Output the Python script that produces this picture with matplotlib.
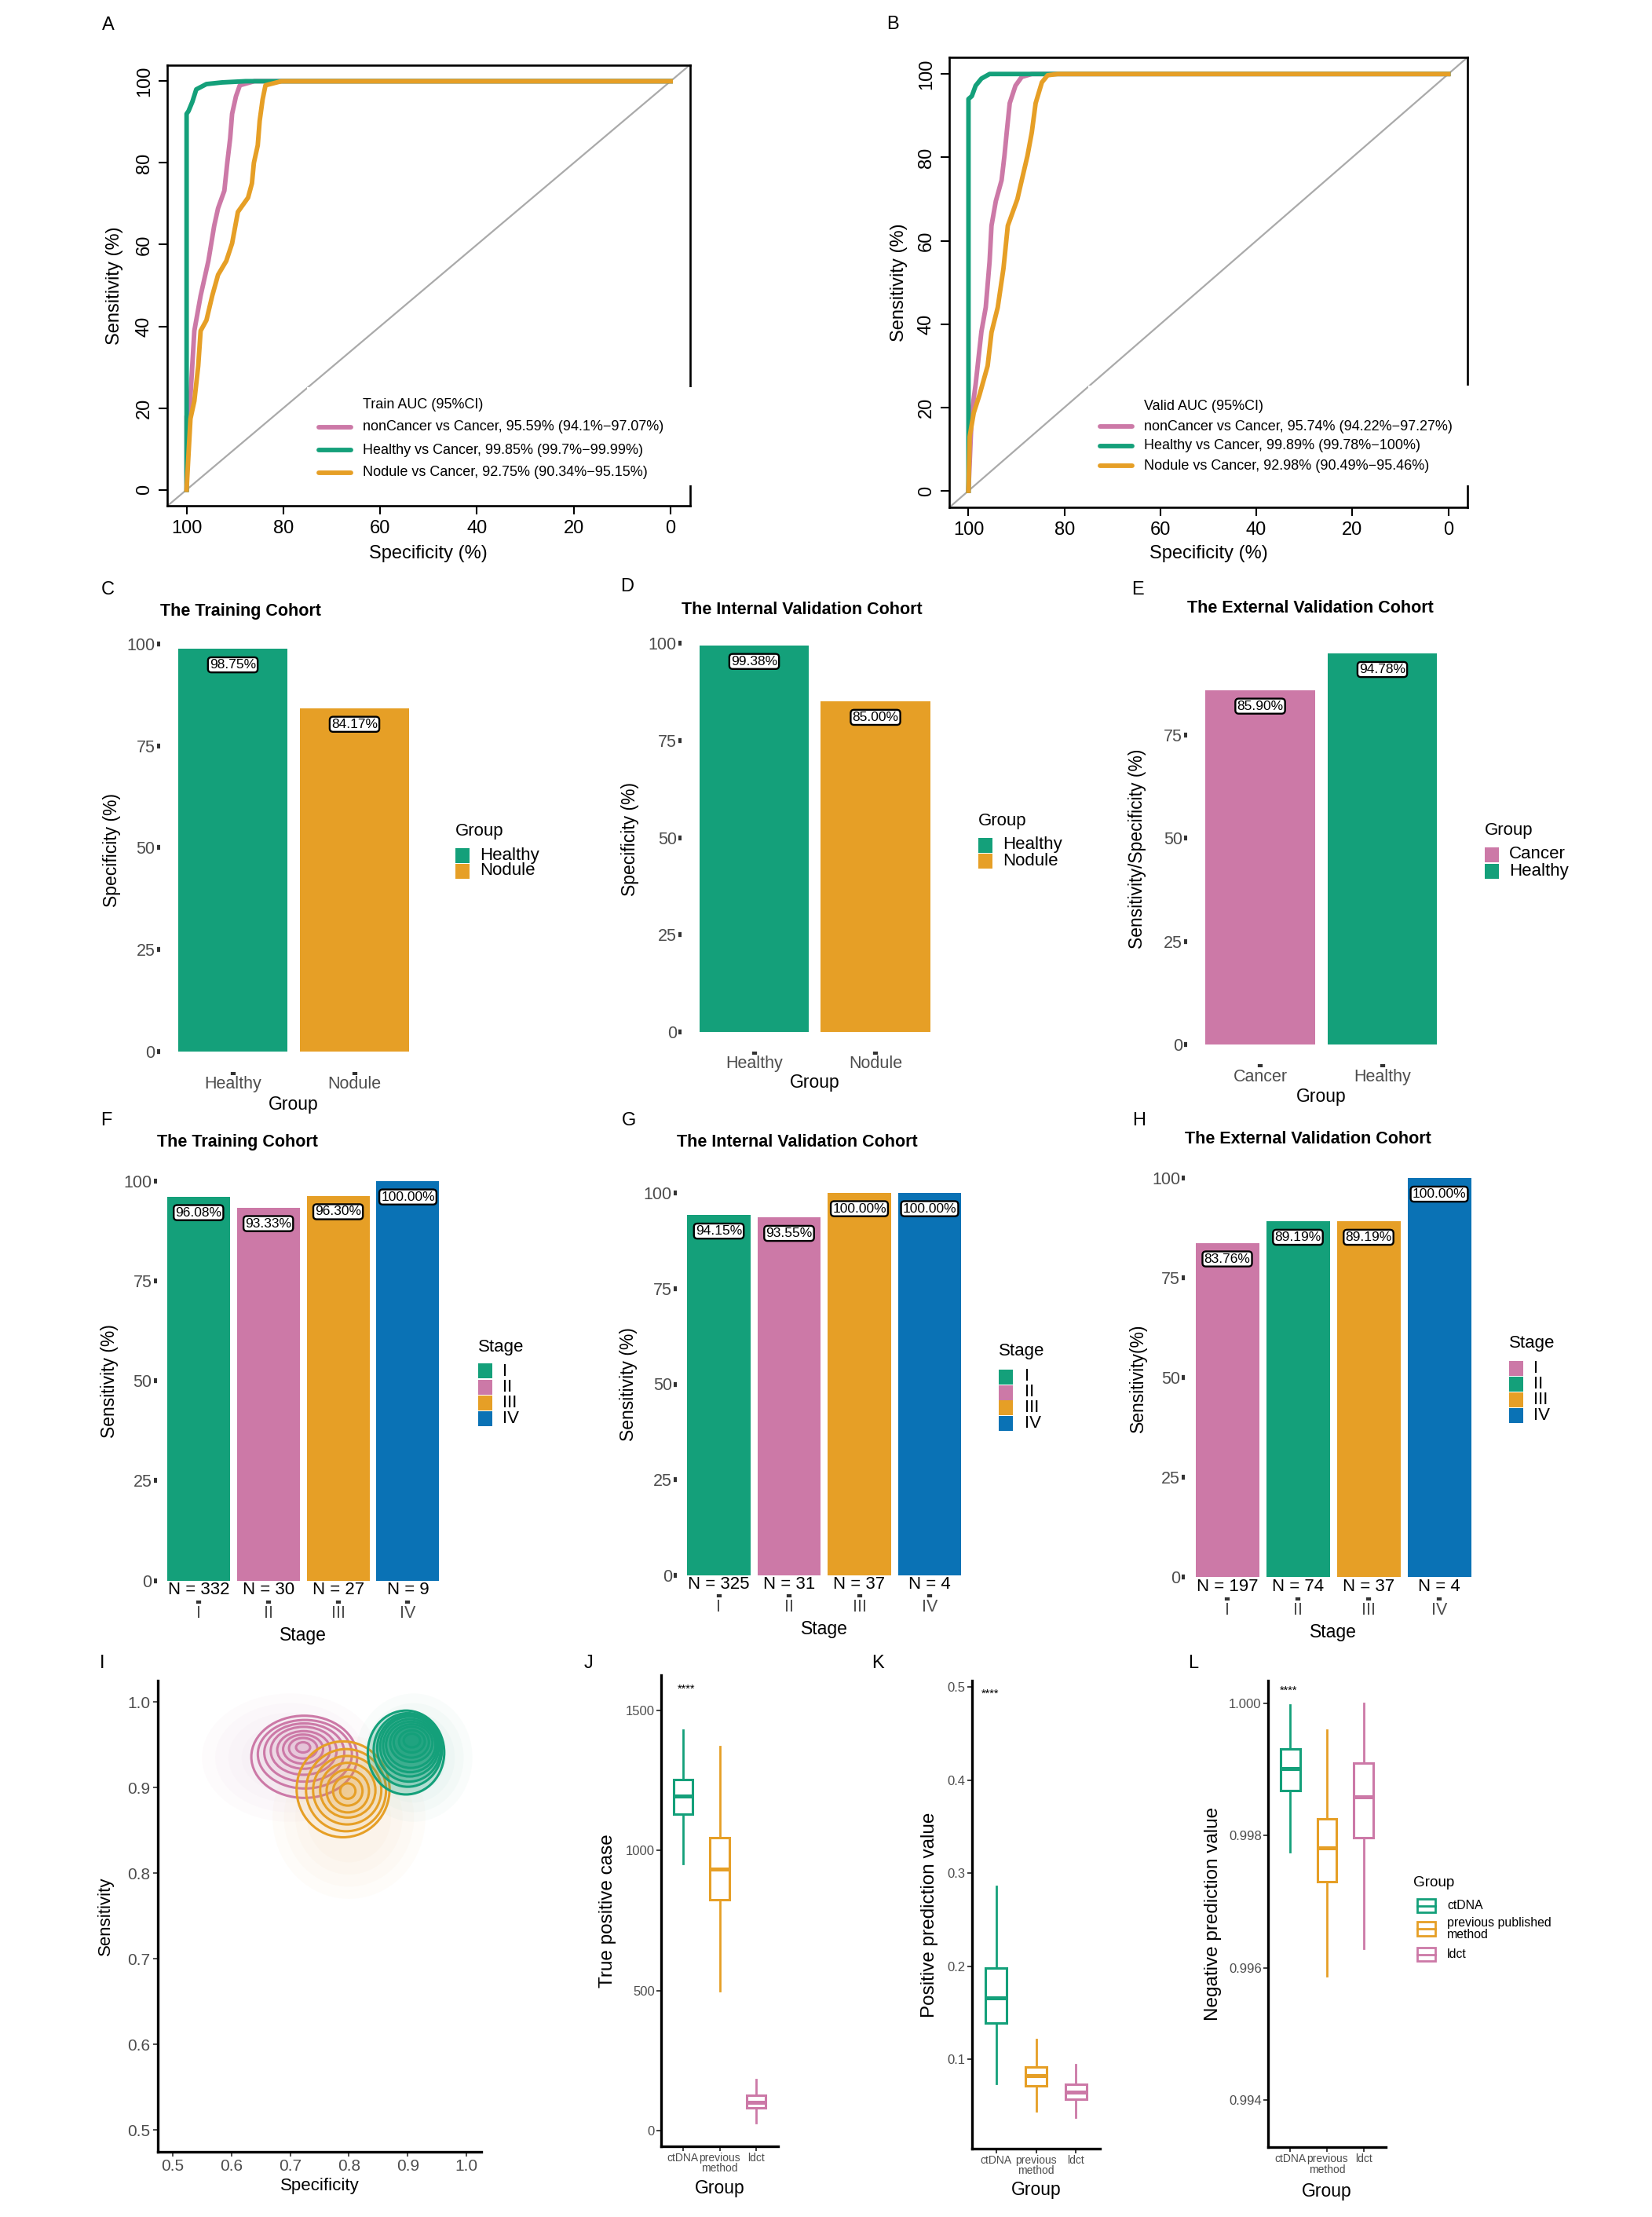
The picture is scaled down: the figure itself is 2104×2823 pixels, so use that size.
import matplotlib
matplotlib.use('Agg')
import matplotlib.pyplot as plt
from matplotlib import font_manager as fm
from matplotlib.patches import Rectangle, Ellipse
from matplotlib.lines import Line2D

# ---------------- data ----------------
# ROC curves (specificity %, sensitivity %) read off panels A and B
A_noncancer_spec = [100, 100, 99.3, 98.4, 97.1, 95.5, 94.3, 93.5, 92.2, 91.6, 91.0, 90.6, 89.8, 89.0, 86.0, 0]
A_noncancer_sens = [0, 18, 20.9, 38.9, 47.5, 56, 64.6, 68.9, 73.2, 80, 86, 92, 96.3, 99, 100, 100]
A_healthy_spec = [100, 100, 100, 99.6, 98.8, 98.0, 95.9, 92.7, 87.8, 0]
A_healthy_sens = [0, 8.8, 92, 92.7, 95, 98, 99.3, 99.7, 100, 100]
A_nodule_spec = [100, 99.6, 99.2, 98.4, 97.6, 97.1, 95.9, 94.7, 93.5, 91.8, 90.6, 89.4, 87.3, 86.5,
                 86.1, 85.3, 84.9, 84.3, 83.7, 80.4, 0]
A_nodule_sens = [0, 8.8, 17.4, 21.7, 30.3, 38.9, 41.5, 47.5, 52.6, 56, 60.3, 68, 71.5, 75,
                 80, 84.3, 90.3, 95.5, 99, 100, 100]

B_noncancer_spec = [100, 99.3, 98.5, 97.3, 96.4, 95.6, 95.2, 94.3, 93.1, 92.5, 92.0, 91.4, 90.2, 88.9, 86.8, 0]
B_noncancer_sens = [0, 18.7, 25.6, 38.2, 44, 55, 63.6, 69.5, 74.5, 80.4, 86.3, 93, 97.2, 99.3, 100, 100]
B_healthy_spec = [100, 100, 99.3, 98.5, 97.3, 95.6, 0]
B_healthy_sens = [0, 94, 94.7, 97.2, 98.9, 100, 100]
B_nodule_spec = [100, 99.75, 98.9, 97.7, 96.0, 95.2, 93.9, 92.7, 91.8, 89.8, 88.9, 87.7, 86.8, 86.0,
                 84.7, 83.5, 81.4, 0]
B_nodule_sens = [0, 13, 18.7, 23, 30, 38, 44, 53.4, 63.6, 70, 74.5, 80.4, 86, 93, 98, 99.7, 100, 100]

A_legend = ["nonCancer vs Cancer, 95.59% (94.1%\u221297.07%)",
            "Healthy vs Cancer, 99.85% (99.7%\u221299.99%)",
            "Nodule vs Cancer, 92.75% (90.34%\u221295.15%)"]
B_legend = ["nonCancer vs Cancer, 95.74% (94.22%\u221297.27%)",
            "Healthy vs Cancer, 99.89% (99.78%\u2212100%)",
            "Nodule vs Cancer, 92.98% (90.49%\u221295.46%)"]

# specificity bars
C_groups = ["Healthy", "Nodule"]
C_values = [98.75, 84.17]
D_groups = ["Healthy", "Nodule"]
D_values = [99.38, 85.00]
E_groups = ["Cancer", "Healthy"]
E_values = [85.90, 94.78]

# sensitivity by stage
stages = ["I", "II", "III", "IV"]
F_values = [96.08, 93.33, 96.30, 100.00]
F_n = [332, 30, 27, 9]
G_values = [94.15, 93.55, 100.00, 100.00]
G_n = [325, 31, 37, 4]
H_values = [83.76, 89.19, 89.19, 100.00]
H_n = [197, 74, 37, 4]

# panel I: density contour rings (centre x, centre y, half width, half height)
I_pink_rings = [(0.724, 0.936, 0.090, 0.048), (0.725, 0.939, 0.080, 0.040), (0.724, 0.941, 0.068, 0.034),
                (0.723, 0.943, 0.056, 0.028), (0.723, 0.944, 0.045, 0.022), (0.722, 0.945, 0.034, 0.017),
                (0.722, 0.946, 0.024, 0.012), (0.722, 0.947, 0.012, 0.006)]
I_orange_rings = [(0.790, 0.898, 0.079, 0.056), (0.795, 0.897, 0.068, 0.048), (0.797, 0.897, 0.058, 0.040),
                  (0.798, 0.897, 0.047, 0.032), (0.798, 0.896, 0.036, 0.025), (0.798, 0.896, 0.025, 0.017),
                  (0.798, 0.896, 0.013, 0.009)]
I_green_rings = [(0.897, 0.941, 0.065, 0.049), (0.900, 0.944, 0.058, 0.043), (0.902, 0.946, 0.054, 0.039),
                 (0.903, 0.948, 0.050, 0.035), (0.904, 0.949, 0.046, 0.031), (0.905, 0.950, 0.042, 0.027),
                 (0.906, 0.952, 0.036, 0.022), (0.906, 0.953, 0.030, 0.018), (0.907, 0.954, 0.022, 0.013),
                 (0.907, 0.955, 0.014, 0.008)]
I_haze = [(0.70, 0.935, 0.15, 0.075), (0.80, 0.865, 0.13, 0.095), (0.91, 0.935, 0.10, 0.075)]

# panels J-L: boxplot summaries (whislo, q1, med, q3, whishi) for ctDNA, previous method, ldct
box_groups = ["ctDNA", "previous\nmethod", "ldct"]
J_stats = [(952, 1129, 1194, 1253, 1430), (500, 823, 933, 1046, 1371), (28, 81, 102, 126, 183)]
K_stats = [(0.074, 0.139, 0.166, 0.198, 0.286), (0.0445, 0.071, 0.082, 0.0916, 0.121),
           (0.0373, 0.0566, 0.0643, 0.0733, 0.0944)]
L_stats = [(0.99775, 0.99868, 0.99902, 0.99931, 0.99998), (0.99588, 0.9973, 0.99782, 0.99826, 0.9996),
           (0.9963, 0.99797, 0.99859, 0.9991, 1.0000)]

# ---------------- style ----------------
GREEN = '#14A07A'
PINK = '#CC79A7'
ORANGE = '#E69F26'
BLUE = '#0A72B5'
GRAY_TXT = '#4D4D4D'

names = {f.name for f in fm.fontManager.ttflist}
SANS = 'Liberation Sans'
HAS_NARROW = 'Liberation Sans Narrow' in names
NARROW = 'Liberation Sans Narrow' if HAS_NARROW else SANS
NS = 1.0 if HAS_NARROW else 0.78   # shrink text sizes when no narrow face is present
plt.rcParams['font.family'] = [SANS, 'DejaVu Sans']

W, H = 2104, 2823
fig = plt.figure(figsize=(W / 100, H / 100), dpi=100)


def px_axes(box):
    l, t, r, b = box
    return fig.add_axes([l / W, 1 - b / H, (r - l) / W, (b - t) / H])


def ftext(x, y, s, **kw):
    fig.text(x / W, 1 - y / H, s, **kw)


def frect(x0, y0, x1, y1, **kw):
    fig.patches.append(Rectangle((x0 / W, 1 - y1 / H), (x1 - x0) / W, (y1 - y0) / H,
                                 transform=fig.transFigure, figure=fig, **kw))


def fline(x0, x1, y, **kw):
    fig.lines.append(Line2D([x0 / W, x1 / W], [1 - y / H, 1 - y / H],
                            transform=fig.transFigure, figure=fig, **kw))


def place_labels(ax, box, xlab, ylab, xlab_y, ylab_x, fs, family=SANS, xfs=None):
    l, t, r, b = box
    ax.set_xlabel(xlab, fontsize=xfs or fs, va='center', family=family)
    ax.xaxis.set_label_coords(0.5, (b - xlab_y) / (b - t))
    ax.set_ylabel(ylab, fontsize=fs, va='center', family=SANS)
    ax.yaxis.set_label_coords((ylab_x - l) / (r - l), 0.5)


# ---------------- ROC panels ----------------
def roc_panel(box, curves, legend_title, legend_labels, leg, ylab_x, xlab_y):
    ax = px_axes(box)
    ax.set_xlim(104, -4)
    ax.set_ylim(-4, 104)
    ax.axline((100, 0), (0, 100), color='#AAAAAA', lw=1.6, zorder=1)
    for sp, se, col in curves:
        ax.plot(sp, se, color=col, lw=4.2, solid_joinstyle='round', zorder=3)
    for s in ax.spines.values():
        s.set_linewidth(1.9)
    ax.set_xticks([100, 80, 60, 40, 20, 0])
    ax.set_yticks([0, 20, 40, 60, 80, 100])
    ax.tick_params(length=8, width=1.5, labelsize=17, pad=5)
    ax.tick_params(axis='y', labelrotation=90)
    for t in ax.get_yticklabels():
        t.set_va('center')
    place_labels(ax, box, 'Specificity (%)', 'Sensitivity (%)', xlab_y, ylab_x, 17)
    # legend drawn on a white patch that hides the frame behind it
    rx0, ry0, rx1, ry1, hx0, hx1, tx, ty, rows = leg
    frect(rx0, ry0, rx1, ry1, facecolor='white', edgecolor='none', zorder=5)
    lfs = 15 if HAS_NARROW else 13
    ftext(tx, ty, legend_title, fontsize=lfs, va='center', family=NARROW, zorder=6)
    for (sp, se, col), lab, y in zip(curves, legend_labels, rows):
        fline(hx0, hx1, y, color=col, lw=4.2, solid_capstyle='round', zorder=6)
        ftext(tx, y, lab, fontsize=lfs, va='center', family=NARROW, zorder=6)
    return ax


A_box = (213, 82.6, 878.7, 644.4)
roc_panel(A_box,
          [(A_noncancer_spec, A_noncancer_sens, PINK), (A_healthy_spec, A_healthy_sens, GREEN),
           (A_nodule_spec, A_nodule_sens, ORANGE)],
          'Train AUC (95%CI)', A_legend,
          (391, 493, 905, 618, 406, 447, 462, 515, [544, 573, 602]), 146, 705)
B_box = (1209, 73, 1869, 646.2)
roc_panel(B_box,
          [(B_noncancer_spec, B_noncancer_sens, PINK), (B_healthy_spec, B_healthy_sens, GREEN),
           (B_nodule_spec, B_nodule_sens, ORANGE)],
          'Valid AUC (95%CI)', B_legend,
          (1386, 491, 1895, 618, 1401, 1442, 1457, 517, [543, 568, 593]), 1145, 705)
ftext(138, 32, 'A', fontsize=17, va='center', ha='center')
ftext(1137, 31, 'B', fontsize=17, va='center', ha='center')


# ---------------- bar panels ----------------
def bar_panel(box, cats, values, colors, title, title_y, ylab, ylab_x, xlab, xlab_y,
              leg_title, leg, counts=None):
    ax = px_axes(box)
    x = list(range(len(cats)))
    vmax = max(values)
    ax.bar(x, values, width=0.9, color=colors, zorder=2)
    ax.set_xlim(-0.6, len(cats) - 0.4)
    ax.set_ylim(-0.05 * vmax, 1.05 * vmax)
    ax.set_xticks(x)
    ax.set_xticklabels(cats)
    ax.set_yticks([t for t in (0, 25, 50, 75, 100) if t <= 1.05 * vmax])
    for s in ax.spines.values():
        s.set_visible(False)
    ax.tick_params(length=3.2, width=4.5, color='#333333', labelsize=15.5, labelcolor=GRAY_TXT, pad=1)
    for xi, v in zip(x, values):
        ax.annotate(f'{v:.2f}%', (xi, v), xytext=(0, -14.5), textcoords='offset points',
                    ha='center', va='center', fontsize=12.5, zorder=4,
                    bbox=dict(boxstyle='round,pad=0.12,rounding_size=0.25', fc='white', ec='black', lw=1.7))
    if counts is not None:
        for xi, n in zip(x, counts):
            ax.annotate(f'N = {n}', (xi, 0), xytext=(0, -8.6), textcoords='offset points',
                        ha='center', va='center', fontsize=16, zorder=4)
    place_labels(ax, box, xlab, ylab, xlab_y, ylab_x, 16.5)
    ftext(box[0], title_y, title, fontsize=15.5, fontweight='bold', va='center')
    # side legend
    kx, ty, rows, tx = leg
    ftext(kx, ty, leg_title, fontsize=16, va='center')
    for lab, col, y in zip(cats, colors, rows):
        frect(kx, y - 9.5, kx + 18, y + 9.5, facecolor=col, edgecolor='none')
        ftext(tx, y, lab, fontsize=16, va='center')
    return ax


bar_panel((203.5, 800.8, 544.5, 1364.6), C_groups, C_values, [GREEN, ORANGE], 'The Training Cohort', 778,
          'Specificity (%)', 143, 'Group', 1406, 'Group', (580, 1059, [1089, 1109], 611))
bar_panel((867.8, 797.5, 1207.7, 1338.6), D_groups, D_values, [GREEN, ORANGE], 'The Internal Validation Cohort',
          776, 'Specificity (%)', 803, 'Group', 1379, 'Group', (1246, 1046, [1076, 1096], 1277))
bar_panel((1511.7, 807.5, 1853.8, 1354.9), E_groups, E_values, [PINK, GREEN], 'The External Validation Cohort',
          775, 'Sensitivity/Specificity (%)', 1449, 'Group', 1396, 'Group', (1891, 1057, [1088, 1109], 1922))
bar_panel((199.5, 1478.6, 572.8, 2038), stages, F_values, [GREEN, PINK, ORANGE, BLUE], 'The Training Cohort',
          1454.5, 'Sensitivity (%)', 139.5, 'Stage', 2083, 'Stage',
          (609, 1715, [1746, 1766, 1786, 1806], 640), counts=F_n)
bar_panel((861.8, 1494.6, 1237.7, 2030.4), stages, G_values, [GREEN, PINK, ORANGE, BLUE],
          'The Internal Validation Cohort', 1454.5, 'Sensitivity (%)', 801, 'Stage', 2074, 'Stage',
          (1272, 1720.5, [1753, 1773, 1792, 1812], 1305), counts=G_n)
bar_panel((1509, 1475, 1887, 2033.9), stages, H_values, [PINK, GREEN, ORANGE, BLUE],
          'The External Validation Cohort', 1451, 'Sensitivity(%)', 1449, 'Stage', 2079, 'Stage',
          (1922, 1711, [1742, 1762.5, 1782.6, 1802.7], 1953), counts=H_n)

for letter, (x, y) in {'C': (137.5, 751), 'D': (799, 747), 'E': (1449, 751),
                       'F': (135.6, 1427), 'G': (801, 1427), 'H': (1451, 1427)}.items():
    ftext(x, y, letter, fontsize=17, va='center', ha='center')

# ---------------- panel I ----------------
I_box = (201, 2140, 613, 2739.5)
ax = px_axes(I_box)
ax.set_xlim(0.475, 1.025)
ax.set_ylim(0.475, 1.025)
for (cx, cy, a, b), col in zip(I_haze, [PINK, ORANGE, GREEN]):
    for k in (1.0, 0.85, 0.7, 0.55):
        ax.add_patch(Ellipse((cx, cy), 2 * a * k, 2 * b * k, color=col, alpha=0.025, lw=0))
for rings, col, fa in ((I_pink_rings, PINK, 0.05), (I_orange_rings, ORANGE, 0.07), (I_green_rings, GREEN, 0.24)):
    for cx, cy, a, b in rings:
        ax.add_patch(Ellipse((cx, cy), 2 * a, 2 * b, facecolor=col, alpha=fa, lw=0))
        ax.add_patch(Ellipse((cx, cy), 2 * a, 2 * b, fill=False, edgecolor=col, lw=2.2))
ticks = [0.5, 0.6, 0.7, 0.8, 0.9, 1.0]
ax.set_xticks(ticks)
ax.set_xticklabels([f'{t:.1f}' for t in ticks])
ax.set_yticks(ticks)
ax.set_yticklabels([f'{t:.1f}' for t in ticks])
for s in ('top', 'right'):
    ax.spines[s].set_visible(False)
for s in ('left', 'bottom'):
    ax.spines[s].set_linewidth(2.4)
ax.tick_params(length=4, width=1.2, color='#333333', labelsize=15, labelcolor=GRAY_TXT, pad=3)
place_labels(ax, I_box, 'Specificity', 'Sensitivity', 2784, 134, 16)
ftext(130, 2118, 'I', fontsize=17, va='center', ha='center')


# ---------------- panels J, K, L ----------------
def box_panel(box, stats, ylim, yticks, ylabels, ylab, ylab_x, xlab_y, star_xy):
    ax = px_axes(box)
    cols = [GREEN, ORANGE, PINK]
    bstats = [dict(whislo=s[0], q1=s[1], med=s[2], q3=s[3], whishi=s[4], label=g)
              for s, g in zip(stats, box_groups)]
    art = ax.bxp(bstats, positions=[1, 2, 3], widths=0.53, showfliers=False, showcaps=False,
                 patch_artist=True)
    for i, col in enumerate(cols):
        art['boxes'][i].set(facecolor='white', edgecolor=col, lw=2.2)
        art['medians'][i].set(color=col, lw=3.6)
        for w in art['whiskers'][2 * i:2 * i + 2]:
            w.set(color=col, lw=2.0)
    ax.set_xlim(0.4, 3.6)
    ax.set_ylim(*ylim)
    ax.set_yticks(yticks)
    ax.set_yticklabels(ylabels, family=NARROW, fontsize=14 * NS if HAS_NARROW else 12)
    ax.set_xticks([1, 2, 3])
    ax.set_xticklabels(box_groups, family=NARROW, linespacing=0.95,
                       fontsize=14 if HAS_NARROW else 10)
    for s in ('top', 'right'):
        ax.spines[s].set_visible(False)
    for s in ('left', 'bottom'):
        ax.spines[s].set_linewidth(2.4)
    ax.tick_params(length=4, width=1.3, color='#333333', labelcolor=GRAY_TXT, pad=2)
    ax.text(star_xy[0], star_xy[1], '****', ha='center', va='center', fontsize=12 if HAS_NARROW else 10.5,
            family=NARROW)
    place_labels(ax, box, 'Group', ylab, xlab_y, ylab_x, 17.5, family=NARROW,
                 xfs=19 if HAS_NARROW else 16.5)
    return ax


box_panel((842, 2133, 991, 2732.5), J_stats, (-55, 1626), [0, 500, 1000, 1500], ['0', '500', '1000', '1500'],
          'True positive case', 774, 2786, (1.08, 1577))
box_panel((1238, 2140, 1401, 2735.7), K_stats, (0.004, 0.507), [0.1, 0.2, 0.3, 0.4, 0.5],
          ['0.1', '0.2', '0.3', '0.4', '0.5'], 'Positive prediction value', 1184, 2788, (0.85, 0.493))
box_panel((1615, 2140, 1765, 2734), L_stats, (0.99329, 1.000345), [0.994, 0.996, 0.998, 1.000],
          ['0.994', '0.996', '0.998', '1.000'], 'Negative prediction value', 1545, 2790, (0.95, 1.00019))

for letter, x in (('J', 749), ('K', 1118), ('L', 1520)):
    ftext(x, 2118, letter, fontsize=17, va='center', ha='center')

# legend for J-L
lg = 1.0 if HAS_NARROW else 0.85
ftext(1800, 2397.5, 'Group', fontsize=16 * lg, va='center', family=NARROW)
for lab, col, (y0, y1) in zip(['ctDNA', 'previous published\nmethod', 'ldct'], [GREEN, ORANGE, PINK],
                              [(2418, 2435), (2447, 2465), (2480, 2497)]):
    frect(1805, y0, 1828, y1, facecolor='white', edgecolor=col, lw=2.0)
    fline(1805, 1828, (y0 + y1) / 2, color=col, lw=2.0)
    ftext(1843, (y0 + y1) / 2, lab, fontsize=13.5 * lg, va='center', family=NARROW, linespacing=0.95)

fig.savefig('out.png', dpi=100, facecolor='white')
